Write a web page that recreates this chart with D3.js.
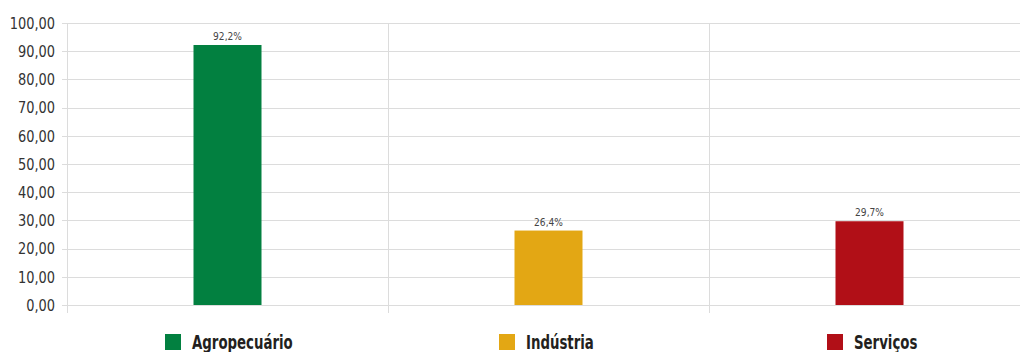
<!DOCTYPE html>
<html>
<head>
<meta charset="utf-8">
<script src="https://cdn.jsdelivr.net/npm/d3@7"></script>
<style>
  body { margin: 0; background: #fff; }
  svg { display: block; font-family: "Liberation Sans Narrow", "DejaVu Sans Condensed", sans-serif; }
</style>
</head>
<body>
<div id="chart"></div>
<script>
;(function () {

    var categories = ['Agropecuário', 'Indústria', 'Serviços'];
    var values = [92.2, 26.4, 29.7];
    var valueLabels = ['92,2%', '26,4%', '29,7%'];
    var colors = ['#028040', '#e3a714', '#b10f17'];
    var yTicks = [0, 10, 20, 30, 40, 50, 60, 70, 80, 90, 100];

    var width = 1021
        , height = 352
        , left = 67
        , right = 1030
        , top = 23
        , bottom = 305;

    var svg = d3.select('#chart').append('svg')
        .attr('width', width)
        .attr('height', height);

    var x = d3.scaleBand()
        .domain(categories)
        .range([left, right]);

    var y = d3.scaleLinear()
        .domain([0, 100])
        .range([bottom, top]);

    // horizontal gridlines
    svg.append('g').selectAll('line')
        .data(yTicks)
        .enter().append('line')
        .attr('x1', left - 5)
        .attr('x2', 1020)
        .attr('y1', function (d) { return Math.round(y(d)) + 0.5; })
        .attr('y2', function (d) { return Math.round(y(d)) + 0.5; })
        .attr('stroke', '#dcdcdc')
        .attr('stroke-width', 1);

    // vertical lines at category boundaries
    var bounds = [left].concat(categories.slice(1).map(function (c) { return x(c); }));
    svg.append('g').selectAll('line')
        .data(bounds)
        .enter().append('line')
        .attr('x1', function (d) { return Math.round(d) + 0.5; })
        .attr('x2', function (d) { return Math.round(d) + 0.5; })
        .attr('y1', top)
        .attr('y2', bottom + 8)
        .attr('stroke', '#dcdcdc')
        .attr('stroke-width', 1);

    // y tick labels (squeezed to look like a condensed face)
    svg.append('g').selectAll('text')
        .data(yTicks)
        .enter().append('text')
        .attr('transform', function (d) { return 'translate(55,' + y(d) + ') scale(0.9,1)'; })
        .attr('dy', '0.36em')
        .attr('text-anchor', 'end')
        .attr('fill', '#333')
        .style('font-size', '16px')
        .text(function (d) { return d3.format('.2f')(d).replace('.', ','); });

    var barW = 68;

    svg.append('g').selectAll('rect')
        .data(values)
        .enter().append('rect')
        .attr('x', function (d, i) { return x(categories[i]) + x.bandwidth() / 2 - barW / 2; })
        .attr('y', function (d) { return y(d); })
        .attr('width', barW)
        .attr('height', function (d) { return bottom - y(d); })
        .attr('fill', function (d, i) { return colors[i]; });

    svg.append('g').selectAll('text')
        .data(values)
        .enter().append('text')
        .attr('transform', function (d, i) {
            return 'translate(' + (x(categories[i]) + x.bandwidth() / 2) + ',' + (y(d) - 5) + ') scale(0.92,1)';
        })
        .attr('text-anchor', 'middle')
        .attr('fill', '#444')
        .style('font-size', '11px')
        .text(function (d, i) { return valueLabels[i]; });

    // legend
    var legendX = [165, 499, 827];
    var legend = svg.append('g').selectAll('g')
        .data(categories)
        .enter().append('g')
        .attr('transform', function (d, i) { return 'translate(' + legendX[i] + ',334)'; });

    legend.append('rect')
        .attr('width', 16)
        .attr('height', 16)
        .attr('fill', function (d, i) { return colors[i]; });

    legend.append('text')
        .attr('transform', 'translate(27,15) scale(0.78,1)')
        .attr('fill', '#231f20')
        .style('font-size', '19px')
        .style('font-weight', 'bold')
        .text(function (d) { return d; });

}());
</script>
</body>
</html>
